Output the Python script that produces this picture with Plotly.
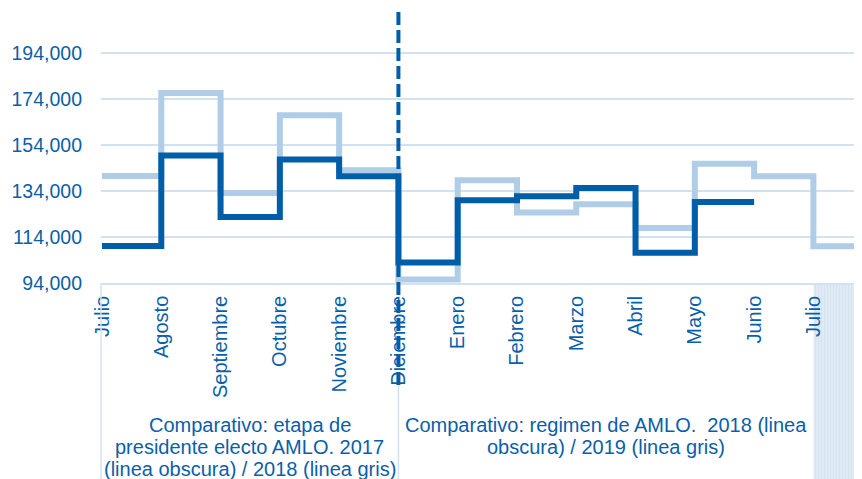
import plotly.graph_objects as go

# ---- data ----
months = ["Julio", "Agosto", "Septiembre", "Octubre", "Noviembre", "Diciembre",
          "Enero", "Febrero", "Marzo", "Abril", "Mayo", "Junio", "Julio"]
# dark line: 2017 (Jul-Dic) / 2018 (Ene-Jun)
dark_values = [110100, 149400, 122700, 147650, 140400, 102900,
               130000, 131700, 135300, 107200, 129200, 129200]
# light line: 2018 (Jul-Dic) / 2019 (Ene-Jul, continuing past the last label)
light_values = [140500, 176600, 133100, 166900, 143000, 95500,
                138700, 124600, 128200, 117900, 145900, 140400, 110000, 110000]
y_ticks = [94000, 114000, 134000, 154000, 174000, 194000]
group_left = ["Comparativo: etapa de", "presidente electo AMLO. 2017",
              "(linea obscura) / 2018 (linea gris)"]
group_right = ["Comparativo: regimen de AMLO.\u00a0 2018 (linea",
               "obscura) / 2019 (linea gris)"]
split_index = 5  # Diciembre

# ---- style ----
DARK = "#005EA8"
LIGHT = "#AFCDE6"
TEXT = "#0A5FAA"
GRID = "#D3E2F1"
FONT = "Liberation Sans, Arial, sans-serif"

OFF = 8  # page body margin offset
W, H = 862, 479 - OFF
L, R, T, B = 101 - OFF, OFF, 12 - OFF, 196
x_range = [-0.017, 12.82]
y_range = [94000, 211830]

plot_h = H - T - B
plot_w = W - L - R

def xp(idx):
    return (idx - x_range[0]) / (x_range[1] - x_range[0])

def yp(pix):
    # page pixel y -> paper y
    return (H - B - (pix - OFF)) / plot_h

def xpix(pix):
    return (pix - OFF - L) / plot_w

fig = go.Figure()
fig.add_trace(go.Scatter(
    x=list(range(len(light_values))), y=light_values, mode="lines",
    line=dict(color=LIGHT, width=6, shape="hv"), hoverinfo="skip"))
fig.add_trace(go.Scatter(
    x=list(range(len(dark_values))), y=dark_values, mode="lines",
    line=dict(color=DARK, width=6, shape="hv"), hoverinfo="skip"))

shapes = []
# hatched block bottom right
shapes.append(dict(type="rect", xref="paper", yref="paper",
                   x0=xp(12) + 0.0005, x1=1.0, y0=0, y1=yp(479),
                   fillcolor="#D6E4F2", line=dict(width=0), layer="below"))
for k in range(1, 50, 3):
    shapes.append(dict(type="line", xref="paper", yref="paper",
                       x0=xpix(813 + k), x1=xpix(813 + k),
                       y0=0, y1=yp(479), line=dict(color="#E8F0F8", width=1),
                       layer="below"))
# category group separators
shapes.append(dict(type="line", xref="paper", yref="paper",
                   x0=0, x1=0, y0=0, y1=yp(479),
                   line=dict(color=GRID, width=1.5)))
shapes.append(dict(type="line", xref="paper", yref="paper",
                   x0=xp(split_index), x1=xp(split_index), y0=yp(385), y1=yp(479),
                   line=dict(color=GRID, width=1.5)))
# dashed separator
shapes.append(dict(type="line", xref="paper", yref="paper",
                   x0=xp(split_index), x1=xp(split_index), y0=1, y1=yp(385),
                   line=dict(color=DARK, width=4, dash="13px,5px")))

annotations = []
cx_left = xp(split_index) / 2
cx_right = (xp(split_index) + xp(12)) / 2
for i, line in enumerate(group_left):
    annotations.append(dict(text=line, xref="paper", yref="paper",
                            x=cx_left, y=yp(425 + 22 * i),
                            xanchor="center", yanchor="middle", showarrow=False,
                            font=dict(family=FONT, size=20, color=TEXT)))
for i, line in enumerate(group_right):
    annotations.append(dict(text=line, xref="paper", yref="paper",
                            x=cx_right, y=yp(425 + 22 * i),
                            xanchor="center", yanchor="middle", showarrow=False,
                            font=dict(family=FONT, size=20, color=TEXT)))

fig.update_layout(
    width=W, height=H,
    margin=dict(l=L, r=R, t=T, b=B, pad=0),
    paper_bgcolor="white", plot_bgcolor="white",
    showlegend=False,
    shapes=shapes, annotations=annotations,
    xaxis=dict(range=x_range, tickmode="array",
               tickvals=list(range(len(months))), ticktext=months,
               tickangle=-90, showgrid=False, zeroline=False,
               showline=True, linecolor=GRID, linewidth=1.5,
               ticks="", ticklabelstandoff=3,
               tickfont=dict(family=FONT, size=20, color=TEXT)),
    yaxis=dict(range=y_range, tickmode="array", tickvals=y_ticks,
               ticktext=[f"{v:,}" for v in y_ticks],
               showgrid=True, gridcolor=GRID, gridwidth=1.5,
               zeroline=False, showline=False, ticks="",
               ticklabelstandoff=18,
               tickfont=dict(family=FONT, size=19.5, color=TEXT)),
)

fig.write_html("out.html")
